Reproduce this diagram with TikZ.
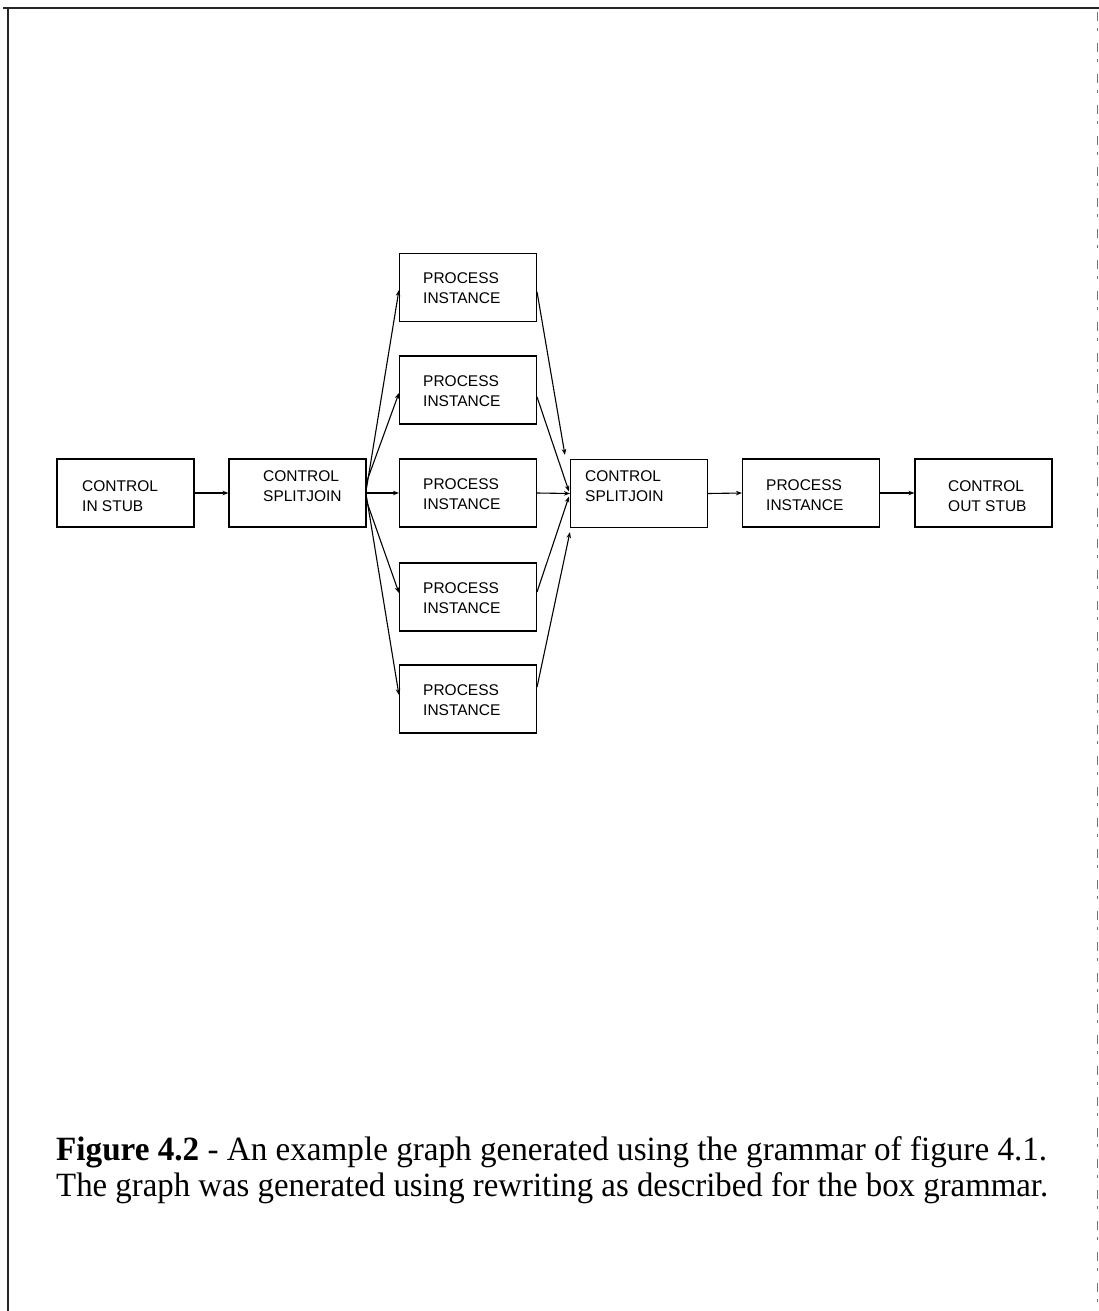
\documentclass[tikz,border=0pt]{standalone}
\usepackage{fontspec}
\usepackage{graphicx}
\setmainfont{Liberation Serif}
\newfontfamily\boxfont{Liberation Sans}
\usetikzlibrary{arrows.meta}

\tikzset{
  blk/.style={draw=black, line width=1.1pt, rectangle, inner sep=0pt,
              minimum width=137pt, minimum height=68pt},
  lbl/.style={font=\boxfont\fontsize{15.5}{20}\selectfont, align=left,
              inner sep=0pt, anchor=west, text=black},
  conn/.style={line width=1.1pt, -{Stealth[length=6pt,width=4.5pt]}},
  frameline/.style={line width=2pt, black!85},
}

\begin{document}
\begin{tikzpicture}[x=1pt, y=-1pt]
  \useasboundingbox (0,0) rectangle (1099,1311);

  % page frame
  \draw[frameline] (3,8) -- (1099,8);
  \draw[frameline] (8,8) -- (8,1311);
  \draw[line width=0.8pt, black!55, dash pattern=on 9pt off 7pt on 3pt off 12pt]
    (1097.5,12) -- (1097.5,1311);

  % boxes
  \node[blk] (instub) at (125.5,493) {};
  \node[blk] (sja)    at (297.5,493) {};
  \node[blk] (pa)     at (468,287.5) {};
  \node[blk] (pb)     at (468,390) {};
  \node[blk] (pc)     at (468,493) {};
  \node[blk] (pd)     at (468,597) {};
  \node[blk] (pe)     at (468,699) {};
  \node[blk] (sjb)    at (639,493.5) {};
  \node[blk] (pf)     at (811,493) {};
  \node[blk] (outstub) at (983.5,493) {};

  % box texts
  \node[lbl] (instub-t)  at (82,496)  {CONTROL\\IN STUB};
  \node[lbl] (sja-t)     at (263,486) {CONTROL\\SPLITJOIN};
  \node[lbl] (pa-t)      at (423,288.5) {PROCESS\\INSTANCE};
  \node[lbl] (pb-t)      at (423,391) {PROCESS\\INSTANCE};
  \node[lbl] (pc-t)      at (423,494) {PROCESS\\INSTANCE};
  \node[lbl] (pd-t)      at (423,598) {PROCESS\\INSTANCE};
  \node[lbl] (pe-t)      at (423,700) {PROCESS\\INSTANCE};
  \node[lbl] (sjb-t)     at (585,486) {CONTROL\\SPLITJOIN};
  \node[lbl] (pf-t)      at (766,495) {PROCESS\\INSTANCE};
  \node[lbl] (outstub-t) at (948,496) {CONTROL\\OUT STUB};

  % main chain
  \draw[conn] (instub.east) -- (sja.west);
  \draw[conn] (sjb.east) -- (pf.west);
  \draw[conn] (pf.east) -- (outstub.west);

  % split fan
  \draw[conn] ([yshift=5pt]sja.east) -- ([yshift=-2.5pt]pa.west);
  \draw[conn] ([yshift=11pt]sja.east) -- ([yshift=-3pt]pb.west);
  \draw[conn] (sja.east) -- (pc.west);
  \draw[conn] ([yshift=-8pt]sja.east) -- ([yshift=4pt]pd.west);
  \draw[conn] ([yshift=-4pt]sja.east) -- ([yshift=4pt]pe.west);

  % join fan
  \draw[conn] ([yshift=-4.5pt]pa.east) -- ([xshift=-5pt,yshift=4pt]sjb.north west);
  \draw[conn] ([yshift=-7pt]pb.east) -- ([xshift=-1pt,yshift=2pt]sjb.west);
  \draw[conn] (pc.east) -- (sjb.west);
  \draw[conn] ([yshift=5pt]pd.east) -- ([xshift=-1pt,yshift=-3pt]sjb.west);
  \draw[conn] ([yshift=12pt]pe.east) -- ([yshift=-4pt]sjb.south west);

  % caption
  \node[anchor=base west, inner sep=0pt] (cap1) at (56,1160)
    {\resizebox{991pt}{\height}{\fontsize{34}{34}\selectfont\textbf{Figure 4.2} - An example graph generated using the grammar of figure 4.1.}};
  \node[anchor=base west, inner sep=0pt] (cap2) at (56,1196)
    {\resizebox{992pt}{\height}{\fontsize{34}{34}\selectfont The graph was generated using rewriting as described for the box grammar.}};
\end{tikzpicture}
\end{document}
